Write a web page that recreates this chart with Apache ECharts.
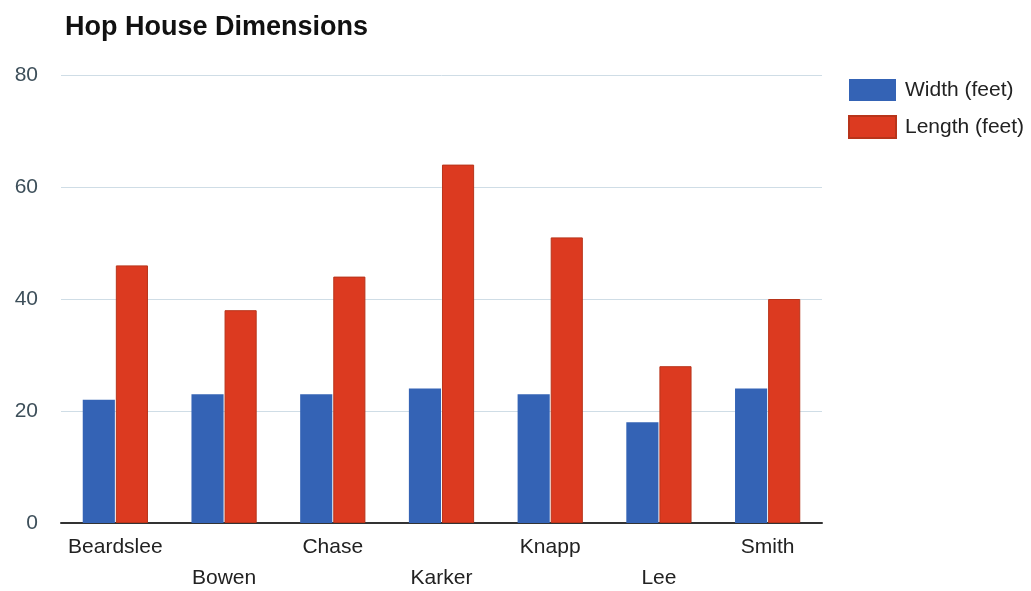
<!DOCTYPE html>
<html>
<head>
<meta charset="utf-8">
<script src="https://cdn.jsdelivr.net/npm/echarts@6/dist/echarts.min.js"></script>
<style>
html, body { margin: 0; padding: 0; background: #fff; }
#chart { width: 1031px; height: 591px; }
</style>
</head>
<body>
<div id="chart"></div>
<script>
const houses = ['Beardslee', 'Bowen', 'Chase', 'Karker', 'Knapp', 'Lee', 'Smith'];
const widthFeet = [22, 23, 23, 24, 23, 18, 24];
const lengthFeet = [46, 38, 44, 64, 51, 28, 40];

const myChart = echarts.init(document.getElementById('chart'));
const font = '"Liberation Sans", Arial, sans-serif';

const option = {
  backgroundColor: '#fff',
  title: {
    text: 'Hop House Dimensions',
    left: 60,
    top: 9,
    textStyle: { fontFamily: font, fontSize: 27, fontWeight: 'bold', color: '#111' }
  },
  legend: {
    orient: 'vertical',
    left: 843,
    top: 74,
    itemWidth: 47,
    itemHeight: 22,
    itemGap: 14,
    icon: 'rect',
    textStyle: { fontFamily: font, fontSize: 21, color: '#222', padding: [0, 0, 0, 4] },
    data: ['Width (feet)', 'Length (feet)']
  },
  grid: { left: 61, right: 209, top: 75, bottom: 68, outerBoundsMode: 'none' },
  xAxis: {
    type: 'category',
    data: houses,
    axisTick: { show: false },
    axisLine: { lineStyle: { color: '#333', width: 2 } },
    axisLabel: {
      interval: 0,
      margin: 9,
      fontFamily: font,
      fontSize: 21,
      color: '#222',
      lineHeight: 31,
      formatter: function (value, idx) {
        return idx % 2 === 1 ? '\n' + value : value;
      }
    }
  },
  yAxis: {
    type: 'value',
    min: 0,
    max: 80,
    interval: 20,
    axisLine: { show: false },
    axisTick: { show: false },
    splitLine: { lineStyle: { color: '#cfdde6', width: 1 } },
    axisLabel: { fontFamily: font, fontSize: 21, color: '#3d4f5a', margin: 23 }
  },
  series: [
    {
      name: 'Width (feet)',
      type: 'bar',
      data: widthFeet,
      barGap: '3%',
      barCategoryGap: '40%',
      itemStyle: { color: '#3463b5' }
    },
    {
      name: 'Length (feet)',
      type: 'bar',
      data: lengthFeet,
      barGap: '3%',
      barCategoryGap: '40%',
      itemStyle: { color: '#dc3a20', borderColor: '#b8341a', borderWidth: 1 }
    }
  ]
};
myChart.setOption(option);
</script>
</body>
</html>
